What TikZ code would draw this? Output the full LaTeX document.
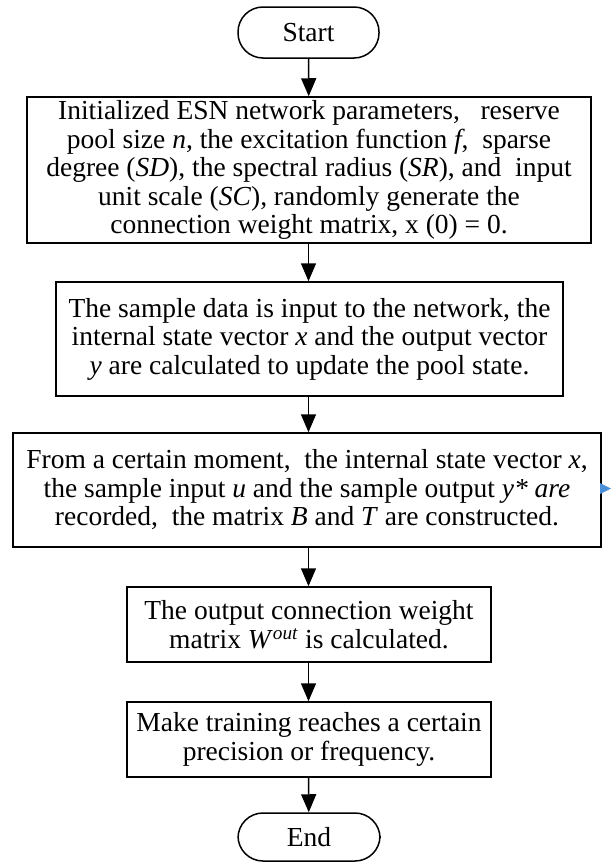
\documentclass[tikz,border=0pt]{standalone}
\usepackage{fontspec}
\setmainfont{Liberation Serif}
\usepackage{xcolor}
\usepackage{tikz}
\usetikzlibrary{arrows.meta,positioning,calc}

\begin{document}
\begin{tikzpicture}[x=1pt,y=-1pt,
  stepbox/.style={draw,line width=1.5pt,inner sep=0pt,align=center,
    font=\fontsize{27.5}{28.5}\selectfont},
  termbox/.style={stepbox,rounded corners=25pt},
  flow/.style={line width=1.5pt,-{Triangle[length=18pt,width=15pt]}}]
  \useasboundingbox (0,0) rectangle (611,862);
  % terminals
  \node[termbox,minimum width=141pt,minimum height=51pt] (start) at (308.5,32.5) {Start};
  \node[termbox,minimum width=142pt,minimum height=48pt] (end) at (309,837) {End};
  % process steps
  \node[stepbox,minimum width=564pt,minimum height=146pt] (init) at (309,170)
    {Initialized ESN network parameters,\ \ \ reserve\\
     pool size \textit{n}, the excitation function \textit{f},\ \ sparse\\
     degree (\textit{SD}), the spectral radius (\textit{SR}), and\ \ input\\
     unit scale (\textit{SC}), randomly generate the\\
     connection weight matrix, x (0) = 0.};
  \node[stepbox,minimum width=507pt,minimum height=114pt] (update) at (309.5,339)
    {The sample data is input to the network, the\\
     internal state vector \textit{x} and the output vector\\
     \textit{y} are calculated to update the pool state.};
  \node[stepbox,minimum width=588pt,minimum height=114pt] (record) at (307,490)
    {From a certain moment,\ \ the internal state vector \textit{x},\\
     the sample input \textit{u} and the sample output \textit{y* are}\\
     recorded,\ \ the matrix \textit{B} and \textit{T} are constructed.};
  \node[stepbox,minimum width=364pt,minimum height=75pt] (wout) at (309,624.5)
    {The output connection weight\\
     matrix \textit{W}\textsuperscript{\textit{out}} is calculated.};
  \node[stepbox,minimum width=364pt,minimum height=75pt] (train) at (309,739.5)
    {Make training reaches a certain\\
     precision or frequency.};
  % arrows
  \draw[flow] (start) -- (init);
  \draw[flow] (init.south -| start) -- (update.north -| start);
  \draw[flow] (update.south -| start) -- (record.north -| start);
  \draw[flow] (record.south -| start) -- (wout.north -| start);
  \draw[flow] (wout.south -| start) -- (train.north -| start);
  \draw[flow] (train.south -| start) -- (end);
  % small blue marker
  \fill[color={rgb,255:red,74;green,144;blue,217}] (600,483) -- (611,488.5) -- (600,494) -- cycle;
\end{tikzpicture}
\end{document}
